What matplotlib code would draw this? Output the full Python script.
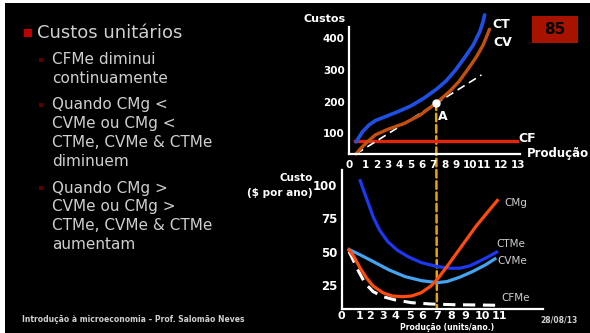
import matplotlib
matplotlib.use('Agg')
import matplotlib.pyplot as plt
from matplotlib.patches import Rectangle, ConnectionPatch

W, H = 590, 333

# --- top chart: total costs (quantity, $) ---
q_ct = [0.08, 0.64, 1.19, 1.75, 2.58, 3.69, 4.81, 5.92, 7.03, 7.86, 8.69, 9.53, 10.22, 10.78, 11.06, 11.19]
ct = [73, 105, 126, 140, 152, 168, 186, 210, 239, 265, 300, 342, 379, 421, 452, 473]

q_cv = [0.08, 0.5, 1.06, 1.75, 2.86, 4.25, 5.64, 7.03, 8.14, 8.97, 9.81, 10.5, 11.06, 11.42, 11.61]
cv = [35, 53, 73, 95, 113, 131, 158, 196, 231, 263, 305, 342, 378, 410, 428]

q_tangent = [0.08, 10.92]
tangent = [35, 284]

q_cf = [0, 14.0]
cf = [76, 76]

point_a = (7.0, 197)

top_yticks = [100, 200, 300, 400]
top_xlabels = [str(i) for i in range(14)]

# --- bottom chart: unit costs ---
q_ctme = [0.89, 1.15, 1.54, 1.92, 2.44, 3.08, 3.85, 4.74, 5.77, 7.05, 8.08, 8.85, 9.62, 10.38, 11.15, 11.79]
ctme = [103, 96, 86, 76, 66, 57.5, 51, 46, 41.7, 38.7, 37.5, 37.5, 39.2, 42.5, 46.2, 49.5]

q_cvme = [0, 0.89, 1.92, 3.2, 4.48, 5.77, 7.05, 7.82, 8.85, 9.87, 10.9, 11.66]
cvme = [51.5, 47.5, 42.5, 36.2, 31.2, 28.2, 26.7, 27.5, 30.8, 35, 40, 44.5]

q_cmg = [0, 0.38, 0.89, 1.41, 1.92, 2.69, 3.46, 4.23, 5.0, 5.77, 6.54, 7.05, 7.82, 8.59, 9.36, 10.13, 10.9, 11.85]
cmg = [51.2, 46.2, 37.5, 30, 24.2, 19.2, 16.7, 16.2, 16.7, 19.2, 24.2, 29.2, 38.7, 48.7, 58.7, 68.7, 77.5, 88.2]

q_cfme = [0, 0.38, 0.77, 1.28, 1.92, 2.69, 3.72, 5.0, 6.54, 8.33, 10.13, 11.92]
cfme = [50, 42.5, 35, 26.2, 20, 16.2, 13.7, 11.7, 10.7, 10.2, 10, 9.75]

bot_yticks = [25, 50, 75, 100]
bot_xlabels = [str(i) for i in range(12)]

bullets = [
    ("Custos unitários", 0),
    ("CFMe diminui\ncontinuamente", 1),
    ("Quando CMg <\nCVMe ou CMg <\nCTMe, CVMe & CTMe\ndiminuem", 1),
    ("Quando CMg >\nCVMe ou CMg >\nCTMe, CVMe & CTMe\naumentam", 1),
]

# label positions (tick labels are unevenly spaced on the slide)
top_xtick_pos = [-0.53, 0.92, 1.89, 2.86, 3.83, 4.81, 5.78, 6.75, 7.81, 8.75, 9.94, 11.14, 12.58, 14.1]
bot_xtick_pos = [-0.59, 0.85, 1.64, 2.69, 3.72, 4.87, 5.87, 7.02, 8.15, 9.31, 10.69, 12.02]

plt.rcParams['font.family'] = ['DejaVu Sans']
TXT = '#cfcfcf'


def fx(px):
    return px / W


def fy(py):
    return 1 - py / H


def text_px(x, y, s, **kw):
    fig.text(fx(x), fy(y), s, **kw)


fig = plt.figure(figsize=(W / 100, H / 100), dpi=100, facecolor='white')
fig.add_artist(Rectangle((fx(5), 0), 1 - fx(5), fy(3), transform=fig.transFigure,
                         facecolor='black', edgecolor='none', zorder=0))


def style_axes(ax):
    ax.set_facecolor('none')
    ax.set_zorder(2)
    for s in ('top', 'right'):
        ax.spines[s].set_visible(False)
    for s in ('left', 'bottom'):
        ax.spines[s].set_color('white')
        ax.spines[s].set_linewidth(1.6)
    ax.tick_params(length=0, colors='white')
    for lab in ax.get_xticklabels() + ax.get_yticklabels():
        lab.set_fontweight('bold')


# top chart
ax1 = fig.add_axes([fx(349), fy(154), (520 - 349) / W, (154 - 27) / H])
ax1.set_xlim(0, 14.25)
ax1.set_ylim(34.7, 435)
ax1.plot(q_cf, cf, color='#e3250c', lw=2.4, clip_on=False)
ax1.plot(q_tangent, tangent, color='white', lw=1.2, ls=(0, (5, 3)), clip_on=False)
ax1.plot(q_cv, cv, color='#c4500f', lw=2.4, clip_on=False, solid_capstyle='round')
ax1.plot(q_ct, ct, color='#1f50e6', lw=2.6, clip_on=False, solid_capstyle='round')
ax1.plot(*point_a, 'o', color='white', mec='white', ms=5, zorder=5, clip_on=False)
ax1.set_yticks(top_yticks)
ax1.set_yticklabels([str(v) for v in top_yticks], fontsize=7.5)
ax1.set_xticks(top_xtick_pos)
ax1.set_xticklabels(top_xlabels, fontsize=7.5)
ax1.tick_params(axis='x', pad=4)
ax1.tick_params(axis='y', pad=3)
style_axes(ax1)

# bottom chart
ax2 = fig.add_axes([fx(341.7), fy(308.5), (543 - 341.7) / W, (308.5 - 170) / H])
ax2.set_xlim(0, 15.5)
ax2.set_ylim(7.35, 111)
ax2.plot(q_cfme, cfme, color='white', lw=2.2, ls=(0, (4, 2.5)), clip_on=False)
ax2.plot(q_cvme, cvme, color='#45a4f0', lw=2.3, clip_on=False)
ax2.plot(q_ctme, ctme, color='#1c38f2', lw=2.3, clip_on=False)
ax2.plot(q_cmg, cmg, color='#ff4b0c', lw=2.3, clip_on=False)
ax2.set_yticks(bot_yticks)
ax2.set_yticklabels([str(v) for v in bot_yticks], fontsize=8.5)
ax2.set_xticks(bot_xtick_pos)
ax2.set_xticklabels(bot_xlabels, fontsize=8)
ax2.tick_params(axis='x', pad=1.5)
ax2.tick_params(axis='y', pad=3)
style_axes(ax2)

# vertical marker from A down to the bottom axis (behind the curves)
con = ConnectionPatch(xyA=point_a, coordsA=ax1.transData,
                      xyB=(7.02, 7.35), coordsB=ax2.transData,
                      color='#e8a30a', lw=1.8, ls=(0, (3, 1.5)), zorder=1)
fig.add_artist(con)

# chart texts
bold = dict(color='white', fontweight='bold')
text_px(303, 19, "Custos", fontsize=8, va='center', **bold)
text_px(492, 24, "CT", fontsize=9, va='center', **bold)
text_px(493, 43, "CV", fontsize=9, va='center', **bold)
text_px(518, 138, "CF", fontsize=9, va='center', **bold)
text_px(527, 153, "Produção", fontsize=8.5, va='center', **bold)
text_px(438, 117, "A", fontsize=9, va='center', **bold)
text_px(313, 178, "Custo", fontsize=7.5, ha='right', va='center', **bold)
text_px(313, 193, "($ por ano)", fontsize=7.5, ha='right', va='center', **bold)
text_px(504, 203, "CMg", fontsize=7.5, va='center', color=TXT)
text_px(496, 244, "CTMe", fontsize=7.5, va='center', color=TXT)
text_px(497, 261, "CVMe", fontsize=7.5, va='center', color=TXT)
text_px(501, 298, "CFMe", fontsize=7.5, va='center', color=TXT)
text_px(447, 328, "Produção (units/ano.)", fontsize=5.5, ha='center', va='center', **bold)
text_px(559, 320, "28/08/13", fontsize=5.5, ha='center', va='center', color=TXT, fontweight='bold')
text_px(22, 320, "Introdução à microeconomia – Prof. Salomão Neves", fontsize=5.5,
        va='center', color=TXT, fontweight='bold')

# page number box
fig.add_artist(Rectangle((fx(532), fy(43)), (578 - 532) / W, (43 - 16) / H,
                         transform=fig.transFigure, facecolor='#a81300', edgecolor='none'))
text_px(555, 29.5, "85", fontsize=11, ha='center', va='center', color='black', fontweight='bold')

# bullet list on the left
y = 33
for txt, level in bullets:
    n = txt.count('\n') + 1
    if level == 0:
        fig.add_artist(Rectangle((fx(24), fy(37)), 8 / W, 8 / H, transform=fig.transFigure,
                                 facecolor='#c00000', edgecolor='none'))
        text_px(37, y, txt, fontsize=13, va='center', color=TXT)
        y += 27
    else:
        fig.add_artist(Rectangle((fx(39), fy(y + 2)), 4 / W, 4 / H, transform=fig.transFigure,
                                 facecolor='#5a0000', edgecolor='none'))
        text_px(52, y - 7.5, txt, fontsize=11, va='top', color=TXT, linespacing=1.33)
        y += 19.5 * n + 5.5

fig.savefig('out.png', dpi=100, facecolor=fig.get_facecolor())
